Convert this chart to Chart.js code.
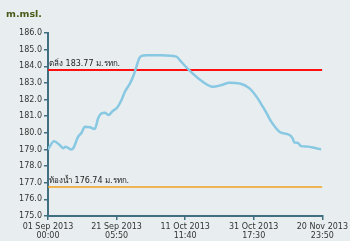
<!DOCTYPE html>
<html><head><meta charset="utf-8">
<script src="https://cdn.jsdelivr.net/npm/chart.js@4/dist/chart.umd.min.js"></script>
<style>html,body{margin:0;padding:0;background:#e8eef0;}#w{width:350px;height:241px;position:relative;}</style>
</head><body><div id="w"><canvas id="c" width="350" height="241"></canvas></div>
<script>
// days since 01 Sep 2013 00:00
const days = [0,1.77,3.53,4.5,5.2,6.8,7.45,8.9,9.9,10.9,12.4,13.8,14.8,15.8,16.8,17.8,19.2,20.2,20.9,21.7,22.7,24.2,25.1,26.1,26.9,27.6,29.1,33.0,37.9,38.9,41.3,44.8,48.7,51.2,53.6,56.6,59.5,61.9,63.4,64.6,65.9,68.3,71.3,72.2,72.7,73.7,74.7,76.7,78.6,80.6];
const levels = [179.0,179.5,179.25,179.07,179.17,179.0,179.07,179.77,180.0,180.37,180.33,180.23,180.87,181.17,181.2,181.07,181.33,181.47,181.67,181.97,182.47,182.97,183.37,183.97,184.47,184.63,184.67,184.66,184.58,184.37,183.84,183.2,182.77,182.87,183.01,182.97,182.67,182.07,181.57,181.15,180.67,180.07,179.87,179.67,179.43,179.4,179.2,179.17,179.1,179.0];
const bankLevel = 183.77;
const bedLevel = 176.74;
const bankLabel = 'ตลิ่ง 183.77 ม.รทก.';
const bedLabel = 'ท้องน้ำ 176.74 ม.รทก.';
const xTickPos = [0,20.243,40.486,60.729,80.993];
const xTickLabels = [['01 Sep 2013','00:00'],['21 Sep 2013','05:50'],['11 Oct 2013','11:40'],['31 Oct 2013','17:30'],['20 Nov 2013','23:50']];
const yTitle = 'm.msl.';
const xMax = 80.993;

const axisColor = '#3f6f80';
const font = {family:'"DejaVu Sans", Verdana, sans-serif', size:8};

const bgPlugin = {id:'bg', beforeDraw(ch){const c=ch.ctx;c.save();c.fillStyle='#e8eef0';c.fillRect(0,0,ch.width,ch.height);c.restore();}};
const textPlugin = {id:'txt', afterDraw(ch){
  const c=ch.ctx, y=ch.scales.y, x=ch.scales.x;
  c.save();
  c.fillStyle='#4a5a18'; c.font='bold 9.5px "DejaVu Sans", Verdana, sans-serif'; c.textBaseline='middle';
  c.fillText(yTitle,6,15);
  c.fillStyle='#222'; c.font='8px "DejaVu Sans", Verdana, sans-serif'; c.textBaseline='bottom';
  c.fillText(bankLabel, x.left+1, y.getPixelForValue(bankLevel)-2);
  c.fillText(bedLabel, x.left+1, y.getPixelForValue(bedLevel)-2);
  c.restore();
}};

new Chart(document.getElementById('c'), {
  type:'line',
  data:{datasets:[
    {data:days.map((d,i)=>({x:d,y:levels[i]})), borderColor:'#88c8e2', borderWidth:2.5, pointRadius:0, tension:0.4, cubicInterpolationMode:'monotone', fill:false},
    {data:[{x:0,y:bankLevel},{x:xMax,y:bankLevel}], borderColor:'#ff1010', borderWidth:2, pointRadius:0},
    {data:[{x:0,y:bedLevel},{x:xMax,y:bedLevel}], borderColor:'#f2a21e', borderWidth:1.5, pointRadius:0}
  ]},
  options:{
    responsive:false, animation:false, events:[],
    layout:{padding:{left:0,right:26,top:33,bottom:0}},
    plugins:{legend:{display:false}, tooltip:{enabled:false}},
    scales:{
      x:{type:'linear', min:0, max:xMax,
        afterBuildTicks(s){s.ticks=xTickPos.map(v=>({value:v}));},
        afterFit(s){s.height=25;},
        ticks:{autoSkip:false, maxRotation:0, color:'#333', font:font, padding:2,
          callback:(v,i)=>xTickLabels[i]},
        grid:{drawOnChartArea:false, drawTicks:true, tickLength:4, color:axisColor, lineWidth:1.5},
        border:{color:axisColor, width:2}},
      y:{min:175, max:186,
        afterBuildTicks(s){const t=[];for(let v=175;v<=186;v++)t.push({value:v});s.ticks=t;},
        afterFit(s){s.width=48;},
        ticks:{color:'#333', font:font, padding:2, callback:v=>v.toFixed(1)},
        grid:{drawOnChartArea:false, drawTicks:true, tickLength:4, color:axisColor, lineWidth:1.5},
        border:{color:axisColor, width:2}}
    }
  },
  plugins:[bgPlugin,textPlugin]
});
</script></body></html>
